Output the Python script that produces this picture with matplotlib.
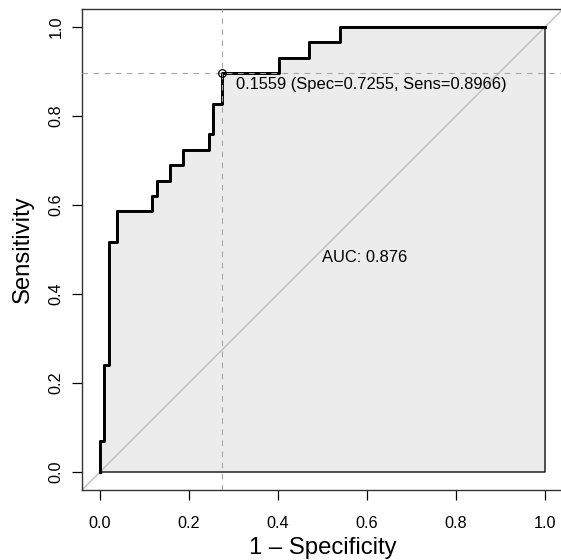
import matplotlib
matplotlib.use("Agg")
import matplotlib.pyplot as plt

plt.rcParams["font.family"] = ["Liberation Sans", "DejaVu Sans"]

# ROC curve (1 - specificity, sensitivity), step corners
fpr = [0.0, 0.009, 0.0196, 0.0392, 0.1176, 0.128, 0.157, 0.187,
       0.245, 0.2549, 0.2745, 0.402, 0.4706, 0.539, 1.0]
tpr = [0.0, 0.069, 0.241, 0.517, 0.586, 0.621, 0.655, 0.690,
       0.724, 0.759, 0.828, 0.897, 0.931, 0.966, 1.0]

best_thr = 0.1559
best_spec = 0.7255
best_sens = 0.8966
auc = 0.876

ticks = [0.0, 0.2, 0.4, 0.6, 0.8, 1.0]

FILL = "#ECECEC"
DIAG = "#BEBEBE"
DASH = "#A6A6A6"

fig = plt.figure(figsize=(5.61, 5.60), dpi=100)
ax = fig.add_axes([0.1465, 0.1254, 0.8567, 0.8582])
ax.set_xlim(-0.04, 1.04)
ax.set_ylim(-0.04, 1.04)

# AUC polygon
ax.fill_between(fpr, tpr, 0, step="pre", facecolor=FILL,
                edgecolor="#222222", linewidth=1.1, zorder=1)
# chance diagonal
ax.axline((0, 0), (1, 1), color=DIAG, linewidth=1.0, zorder=2)
# ROC curve
ax.plot(fpr, tpr, drawstyle="steps-pre", color="black", linewidth=2.1, zorder=3)

# best threshold
bx = 1 - best_spec
ax.axvline(bx, color=DASH, linewidth=0.8, linestyle=(0, (5, 5)), zorder=4)
ax.axhline(best_sens, color=DASH, linewidth=0.8, linestyle=(0, (5, 5)), zorder=4)
ax.plot([bx], [best_sens], marker="o", markersize=5.5, markerfacecolor="none",
        markeredgecolor="black", markeredgewidth=0.9, zorder=5)
ax.text(bx + 0.031, best_sens - 0.035,
        f"{best_thr:.4f} (Spec={best_spec:.4f}, Sens={best_sens:.4f})",
        ha="left", va="baseline", fontsize=11.9, color="black", zorder=6)

ax.text(0.5, 0.4726, f"AUC: {auc:.3f}", ha="left", va="baseline",
        fontsize=11.9, color="black", zorder=6)

ax.set_xticks(ticks)
ax.set_yticks(ticks)
ax.set_xticklabels([f"{t:.1f}" for t in ticks])
ax.set_yticklabels([f"{t:.1f}" for t in ticks], rotation=90, va="center")
ax.tick_params(axis="both", direction="out", length=7.2, width=0.9,
               labelsize=11.7, colors="black")
ax.tick_params(axis="x", pad=12)
ax.tick_params(axis="y", pad=6)
for s in ax.spines.values():
    s.set_color("#333333")
    s.set_linewidth(1.0)

ax.set_xlabel("1 \u2013 Specificity", fontsize=17.2, labelpad=4)
ax.set_ylabel("Sensitivity", fontsize=17.2, labelpad=11)

fig.savefig("out.png", dpi=100)
plt.close(fig)
